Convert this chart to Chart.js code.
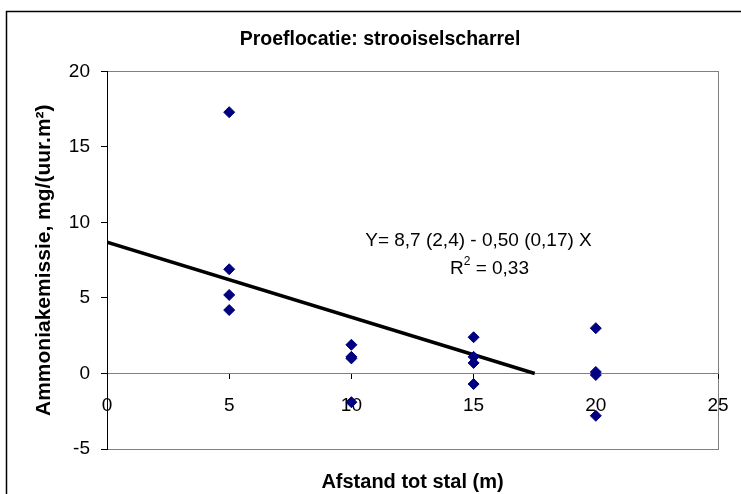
<!DOCTYPE html>
<html>
<head>
<meta charset="utf-8">
<script src="https://cdn.jsdelivr.net/npm/chart.js@4.4.1/dist/chart.umd.min.js"></script>
<style>
  html, body { margin: 0; padding: 0; background: #fff; }
  #wrap { width: 741px; height: 494px; }
</style>
</head>
<body>
<div id="wrap"><canvas id="c"></canvas></div>
<script>
// measured emission per distance from the stable
const DISTANCE = [5, 5, 5, 5, 10, 10, 10, 10, 15, 15, 15, 15, 20, 20, 20, 20];
const EMISSION = [17.3, 6.9, 5.2, 4.2, 1.9, 1.1, 1.0, -1.9, 2.4, 1.1, 0.7, -0.7, 3.0, 0.1, -0.1, -2.8];

// regression line Y = 8,7 - 0,50 X, drawn until it meets the x axis
const FIT_X = [0, 17.5];
const FIT_Y = [8.7, 0];

const X_TICKS = [0, 5, 10, 15, 20, 25];
const Y_TICKS = [-5, 0, 5, 10, 15, 20];

const EQUATION = 'Y= 8,7 (2,4) - 0,50 (0,17) X';
const R2_LABEL = 'R';
const R2_SUP = '2';
const R2_VALUE = ' = 0,33';

const FONT = "'Liberation Sans', Arial, sans-serif";
const NAVY = '#000080';

// Excel-like frame: outer chart border + grey plot area box
const framePlugin = {
    id: 'frame',
    beforeDraw(chart) {
        const { ctx, chartArea: a } = chart;
        ctx.save();
        ctx.fillStyle = '#fff';
        ctx.fillRect(0, 0, chart.width, chart.height);
        ctx.strokeStyle = '#000';
        ctx.lineWidth = 1.5;
        ctx.strokeRect(6.5, 11.5, chart.width + 20, chart.height + 20);
        ctx.strokeStyle = '#808080';
        ctx.lineWidth = 1;
        ctx.strokeRect(Math.round(a.left) + 0.5, Math.round(a.top) + 0.5,
            Math.round(a.right - a.left), Math.round(a.bottom - a.top));
        ctx.restore();
    }
};

// regression equation, placed in data units
const equationPlugin = {
    id: 'equation',
    afterDatasetsDraw(chart) {
        const { ctx, scales: { x, y } } = chart;
        const big = `19px ${FONT}`;
        const small = `12px ${FONT}`;
        ctx.save();
        ctx.fillStyle = '#000';
        ctx.textBaseline = 'middle';
        ctx.textAlign = 'center';
        ctx.font = big;
        ctx.fillText(EQUATION, x.getPixelForValue(15.2), y.getPixelForValue(8.8));

        // R² line with a raised 2
        const wR = ctx.measureText(R2_LABEL).width;
        const wV = ctx.measureText(R2_VALUE).width;
        ctx.font = small;
        const wS = ctx.measureText(R2_SUP).width;
        let px = x.getPixelForValue(15.65) - (wR + wS + wV) / 2;
        const py = y.getPixelForValue(6.95);
        ctx.textAlign = 'left';
        ctx.font = big;
        ctx.fillText(R2_LABEL, px, py);
        px += wR;
        ctx.font = small;
        ctx.fillText(R2_SUP, px, py - 7);
        px += wS;
        ctx.font = big;
        ctx.fillText(R2_VALUE, px, py);
        ctx.restore();
    }
};

const points = DISTANCE.map((d, i) => ({ x: d, y: EMISSION[i] }));
const fitLine = FIT_X.map((d, i) => ({ x: d, y: FIT_Y[i] }));

new Chart(document.getElementById('c'), {
    type: 'scatter',
    plugins: [framePlugin, equationPlugin],
    data: {
        datasets: [
            {
                label: 'Ammoniakemissie',
                data: points,
                pointStyle: 'rectRot',
                pointRadius: 5.5,
                pointHoverRadius: 5.5,
                backgroundColor: NAVY,
                borderColor: NAVY,
                borderWidth: 1,
                order: 1
            },
            {
                type: 'line',
                label: 'Regressie',
                data: fitLine,
                borderColor: '#000',
                borderWidth: 3.5,
                pointRadius: 0,
                fill: false,
                tension: 0,
                order: 2
            }
        ]
    },
    options: {
        responsive: true,
        maintainAspectRatio: false,
        animation: false,
        layout: { padding: { left: 42, right: 23, top: 0, bottom: 0 } },
        plugins: {
            legend: { display: false },
            tooltip: { enabled: false },
            title: {
                display: true,
                text: 'Proeflocatie: strooiselscharrel',
                color: '#000',
                font: { family: FONT, size: 19.5, weight: 'bold' },
                padding: { top: 28, bottom: 20 }
            },
            subtitle: {
                display: true,
                position: 'bottom',
                fullSize: false,
                text: 'Afstand tot stal (m)',
                color: '#000',
                font: { family: FONT, size: 20, weight: 'bold' },
                padding: { top: 21, bottom: 0 }
            }
        },
        scales: {
            x: {
                type: 'linear',
                position: { y: 0 },
                min: 0,
                max: 25,
                afterBuildTicks: s => { s.ticks = X_TICKS.map(v => ({ value: v })); },
                // edge labels may overhang; the layout padding already leaves room
                afterFit: s => { s.paddingLeft = 0; s.paddingRight = 0; },
                ticks: {
                    color: '#000',
                    font: { family: FONT, size: 19 },
                    padding: 16,
                    maxRotation: 0
                },
                grid: {
                    drawOnChartArea: false,
                    drawTicks: true,
                    tickLength: 5,
                    tickColor: '#000'
                },
                border: { color: '#808080', width: 1 }
            },
            y: {
                type: 'linear',
                position: 'left',
                min: -5,
                max: 20,
                afterBuildTicks: s => { s.ticks = Y_TICKS.map(v => ({ value: v })); },
                afterFit: s => { s.width = 65; },
                ticks: {
                    color: '#000',
                    font: { family: FONT, size: 19 },
                    padding: 11
                },
                grid: {
                    drawOnChartArea: false,
                    drawTicks: true,
                    tickLength: 6,
                    tickColor: '#000'
                },
                border: { color: '#000', width: 1 },
                title: {
                    display: true,
                    text: 'Ammoniakemissie, mg/(uur.m²)',
                    color: '#000',
                    font: { family: FONT, size: 21, weight: 'bold' },
                    padding: { top: -10, bottom: 0 }
                }
            }
        }
    }
});
</script>
</body>
</html>
